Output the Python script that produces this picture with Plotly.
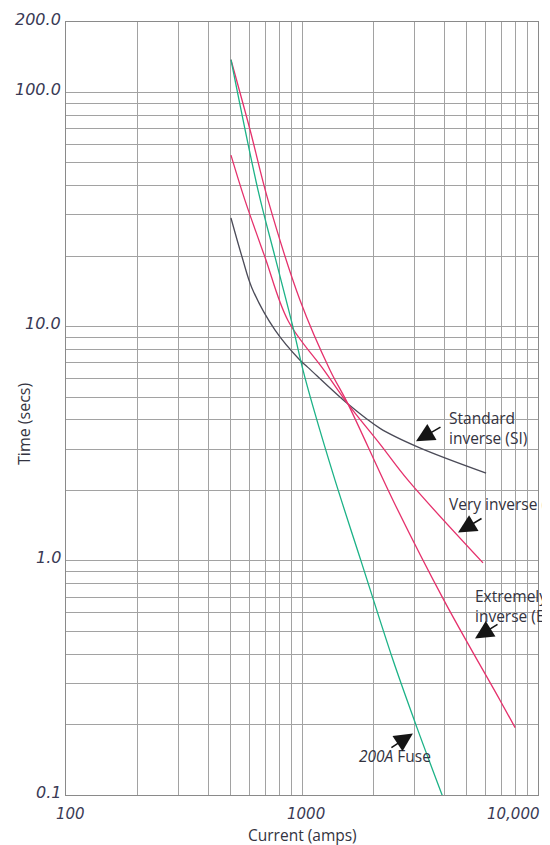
import math
import plotly.graph_objects as go

# ---- data ----
fuse_current = [500, 651, 769, 908, 1010, 1115, 1380, 1778, 2432, 3070, 3953]
fuse_time = [138, 38.3, 19.8, 10.3, 6.52, 4.53, 2.21, 1.0, 0.376, 0.194, 0.098]

ei_current = [500, 603, 718, 981, 1315, 1567, 2432, 3997, 6902, 8000]
ei_time = [138, 69, 34.7, 12.97, 6.52, 4.67, 1.81, 0.678, 0.254, 0.194]

vi_current = [500, 573, 697, 873, 1239, 1567, 2141, 2812, 5848]
vi_time = [54, 34.7, 19.8, 10.6, 6.52, 4.67, 3.15, 2.21, 0.98]

si_current = [500, 560, 614, 769, 981, 1059, 1567, 2141, 3103, 6026]
si_time = [29.1, 19.5, 14.6, 9.66, 7.19, 6.7, 4.67, 3.68, 3.06, 2.37]

x_tick_vals = [100, 1000, 10000]
x_tick_text = ["100", "1000", "10,000"]
y_tick_vals = [0.1, 1, 10, 100, 200]
y_tick_text = ["0.1", "1.0", "10.0", "100.0", "200.0"]

# arrow tips (current, time) and tail offsets in px
arrow_tip_current = [3041, 4583, 5408, 2951]
arrow_tip_time = [3.24, 1.32, 0.466, 0.183]
arrow_dx = [26, 25, 24, -23]
arrow_dy = [-15, -15, -15, 15]

# grid lines at 1..9 x each decade
x_grid = [m * 10 ** e for e in (2, 3) for m in range(1, 10)] + [10000]
y_grid = [m * 10 ** e for e in (-1, 0, 1) for m in range(1, 10)] + [100, 200]

PINK = "#e5316c"
GREEN = "#1cb287"
GREY = "#4b4b58"
TXT = "#333340"
TICK = "#3a3a55"
FONT = "Open Sans"
TICKFONT = "DejaVu Sans"

fig = go.Figure()
for xs, ys, col in [
    (si_current, si_time, GREY),
    (vi_current, vi_time, PINK),
    (ei_current, ei_time, PINK),
    (fuse_current, fuse_time, GREEN),
]:
    fig.add_trace(go.Scatter(x=xs, y=ys, mode="lines",
                             line=dict(color=col, width=1.3, shape="spline", smoothing=1.0),
                             showlegend=False, hoverinfo="skip"))

annotations = []
# y tick labels (log axis -> annotation coords in log10 units)
for v, t in zip(y_tick_vals, y_tick_text):
    annotations.append(dict(x=0, xref="paper", y=math.log10(v), yref="y", text=f"<i>{t}</i>",
                            xanchor="right", yanchor="middle", xshift=-3, yshift=3,
                            showarrow=False, font=dict(family=TICKFONT, size=16, color=TICK)))
# x tick labels
for v, t in zip(x_tick_vals, x_tick_text):
    anchor = "right" if v == 10000 else "center"
    annotations.append(dict(x=math.log10(v), xref="x", y=0, yref="paper", text=f"<i>{t}</i>",
                            xanchor=anchor, yanchor="top", xshift=4, yshift=-8,
                            showarrow=False, font=dict(family=TICKFONT, size=15, color=TICK)))

# axis titles
annotations.append(dict(x=-0.089, xref="paper", y=0.48, yref="paper", text="Time (secs)",
                        textangle=-90, showarrow=False, xanchor="center", yanchor="middle",
                        font=dict(family=FONT, size=16, color=TXT)))
annotations.append(dict(x=0.502, xref="paper", y=-0.0515, yref="paper", text="Current (amps)",
                        showarrow=False, xanchor="center", yanchor="middle",
                        font=dict(family=FONT, size=15.5, color=TXT)))

# curve labels
lab_font = dict(family=FONT, size=15.5, color=TXT)
annotations.append(dict(x=0.808, xref="paper", y=0.475, yref="paper",
                        text="Standard<br>inverse (SI)", align="left",
                        xanchor="left", yanchor="middle", showarrow=False, font=lab_font))
annotations.append(dict(x=0.808, xref="paper", y=0.376, yref="paper",
                        text="Very inverse (VI)", align="left",
                        xanchor="left", yanchor="middle", showarrow=False, font=lab_font))
annotations.append(dict(x=0.862, xref="paper", y=0.2445, yref="paper",
                        text="Extremely<br>inverse (EI)", align="left",
                        xanchor="left", yanchor="middle", showarrow=False, font=lab_font))
annotations.append(dict(x=0.6165, xref="paper", y=0.0505, yref="paper",
                        text="<i>200A</i> Fuse", align="left",
                        xanchor="left", yanchor="middle", showarrow=False, font=lab_font))

for tx, ty, ax, ay in zip(arrow_tip_current, arrow_tip_time, arrow_dx, arrow_dy):
    annotations.append(dict(x=math.log10(tx), y=math.log10(ty), xref="x", yref="y",
                            ax=ax, ay=ay, text="",
                            showarrow=True, arrowhead=2, arrowsize=2.3, arrowwidth=1.6,
                            arrowcolor="#151515", standoff=0))

axis_common = dict(type="log", showgrid=True, gridcolor="#a2a2a2", gridwidth=1,
                   showline=True, linecolor="#8a8a8a", linewidth=1, mirror=True,
                   showticklabels=False, ticks="", zeroline=False)

# page body has an 8px margin, so the figure is 8px smaller and top/left margins shifted
fig.update_layout(
    width=542, height=837,
    margin=dict(l=58, r=12, t=14, b=50),
    paper_bgcolor="white", plot_bgcolor="white",
    xaxis=dict(range=[2, 4], tickvals=x_grid, **axis_common),
    yaxis=dict(range=[-1, math.log10(200)], tickvals=y_grid, **axis_common),
    annotations=annotations,
)

fig.write_html("out.html")
